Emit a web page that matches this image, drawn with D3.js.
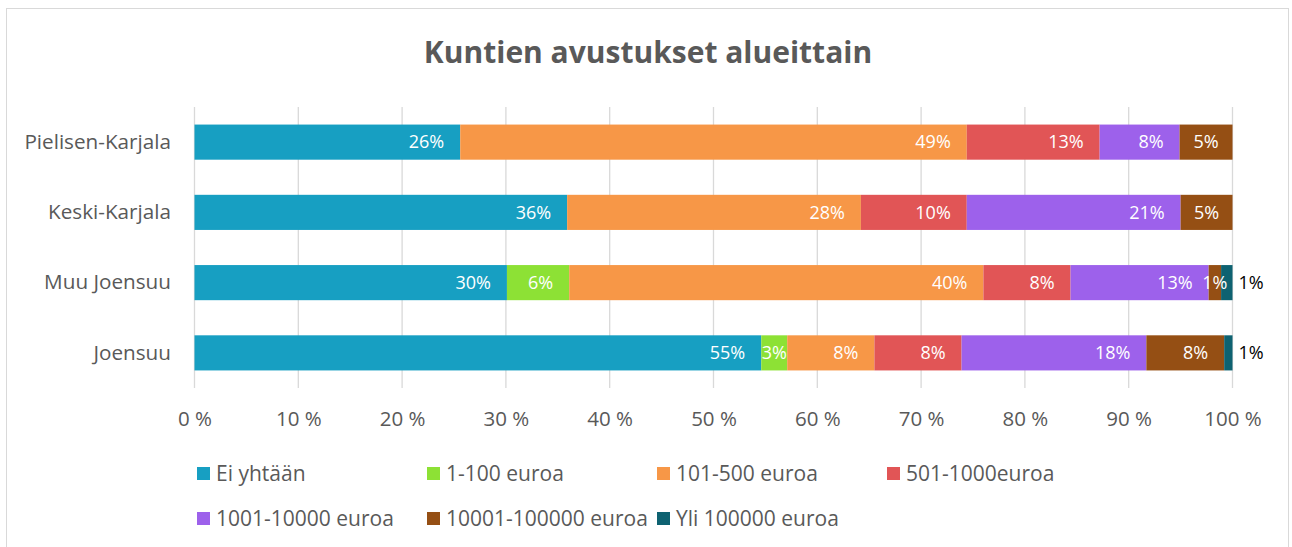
<!DOCTYPE html>
<html>
<head>
<meta charset="utf-8">
<script src="https://cdn.jsdelivr.net/npm/d3@7"></script>
<style>
  body { margin: 0; background: #fff; }
  svg { display: block; font-family: "Open Sans", sans-serif; }
</style>
</head>
<body>
<script>
// Chart size, matches the window
let width = 1292;
let height = 547;

// Regions, top to bottom
var regions = ['Pielisen-Karjala', 'Keski-Karjala', 'Muu Joensuu', 'Joensuu'];

// Grant size classes (legend order)
var classes = ['Ei yhtään', '1-100 euroa', '101-500 euroa', '501-1000euroa',
               '1001-10000 euroa', '10001-100000 euroa', 'Yli 100000 euroa'];

// Share of answers (%) per class, one value per region
var eiYhtaan    = [25.6, 35.9, 30.1, 54.6];
var eur1_100    = [0, 0, 6.0, 2.5];
var eur101_500  = [48.8, 28.3, 39.9, 8.4];
var eur501_1000 = [12.8, 10.2, 8.4, 8.4];
var eur1001_10k = [7.7, 20.6, 13.3, 17.8];
var eur10k_100k = [5.1, 5.0, 1.2, 7.5];
var yli100k     = [0, 0, 1.1, 0.8];

var seriesValues = [eiYhtaan, eur1_100, eur101_500, eur501_1000, eur1001_10k, eur10k_100k, yli100k];

var colors = ['#179FC2', '#8DE135', '#F79747', '#E15556', '#9D61EB', '#954F14', '#0E6271'];

var ticks = [0, 0.1, 0.2, 0.3, 0.4, 0.5, 0.6, 0.7, 0.8, 0.9, 1];

// Build the rows for d3.stack
var rows = regions.map(function(r, i) {
  var row = { region: r };
  classes.forEach(function(c, k) { row[c] = seriesValues[k][i]; });
  return row;
});

var stacked = d3.stack().keys(classes).offset(d3.stackOffsetExpand)(rows);

var svg = d3.select('body')
            .append('svg')
            .attr('width', width)
            .attr('height', height);

// Chart area border
svg.append('rect')
   .attr('x', 6.5).attr('y', 8.5)
   .attr('width', 1282).attr('height', 560)
   .attr('fill', '#fff').attr('stroke', '#D9D9D9');

// Title
svg.append('text')
   .attr('x', 648).attr('y', 63)
   .attr('text-anchor', 'middle')
   .attr('font-size', 30).attr('font-weight', 'bold')
   .attr('fill', '#595959')
   .text('Kuntien avustukset alueittain');

// Scales
var x = d3.scaleLinear().domain([0, 1]).range([194.5, 1232.5]);
var y = d3.scaleBand().domain(regions).range([107, 388]).padding(0.5).paddingOuter(0.25);

// Gridlines
svg.append('g').selectAll('line')
   .data(ticks).enter().append('line')
   .attr('x1', function(d) { return x(d); })
   .attr('x2', function(d) { return x(d); })
   .attr('y1', 107).attr('y2', 388)
   .attr('stroke', '#D9D9D9').attr('stroke-width', 1.3);

// Bottom axis labels (no axis line)
var xAxis = d3.axisBottom(x).tickValues(ticks).tickSize(0).tickPadding(0)
              .tickFormat(function(d) { return Math.round(d * 100) + ' %'; });
var gx = svg.append('g').attr('transform', 'translate(0,407)').call(xAxis);
gx.select('.domain').remove();
gx.selectAll('text').attr('font-size', 20.5).attr('fill', '#595959')
  .attr('font-family', '"Open Sans", sans-serif').attr('dy', '0.71em').attr('y', 4);

// Left axis labels
var yAxis = d3.axisLeft(y).tickSize(0).tickPadding(0);
var gy = svg.append('g').attr('transform', 'translate(171,0)').call(yAxis);
gy.select('.domain').remove();
gy.selectAll('text').attr('font-size', 20.7).attr('fill', '#595959')
  .attr('font-family', '"Open Sans", sans-serif');

// Bars
var layers = svg.append('g').selectAll('g')
   .data(stacked).enter().append('g')
   .attr('fill', function(d, i) { return colors[i]; });

layers.selectAll('rect')
   .data(function(d) { return d; })
   .enter().append('rect')
   .attr('x', function(d) { return x(d[0]); })
   .attr('width', function(d) { return x(d[1]) - x(d[0]); })
   .attr('y', function(d) { return y(d.data.region); })
   .attr('height', y.bandwidth());

// Data labels: white inside end, last class outside in black
var labelLayer = svg.append('g');
stacked.forEach(function(layer, k) {
  layer.forEach(function(d) {
    var v = d.data[layer.key];
    if (!v) return;
    var x0 = x(d[0]), x1 = x(d[1]);
    var cy = y(d.data.region) + y.bandwidth() / 2;
    var t = labelLayer.append('text')
       .attr('y', cy).attr('dy', '0.35em')
       .attr('font-size', 18)
       .text(Math.round(v) + '%');
    if (k === classes.length - 1) {
      t.attr('x', x1 + 6).attr('fill', '#000');
    } else {
      var w = t.node().getComputedTextLength();
      var end = Math.max(x1 - 16, (x0 + x1) / 2 + w / 2);
      t.attr('x', end).attr('text-anchor', 'end').attr('fill', '#fff');
    }
  });
});

// Legend, two rows
var legend = svg.append('g');
var item = legend.selectAll('g')
   .data(classes).enter().append('g')
   .attr('transform', function(d, i) {
     return 'translate(' + (197 + (i % 4) * 230) + ',' + (i < 4 ? 467 : 512) + ')';
   });
item.append('rect')
   .attr('width', 13).attr('height', 13)
   .attr('fill', function(d, i) { return colors[i]; });
item.append('text')
   .attr('x', 19).attr('y', 13.5)
   .attr('font-size', 21).attr('fill', '#595959')
   .text(function(d) { return d; });
</script>
</body>
</html>
